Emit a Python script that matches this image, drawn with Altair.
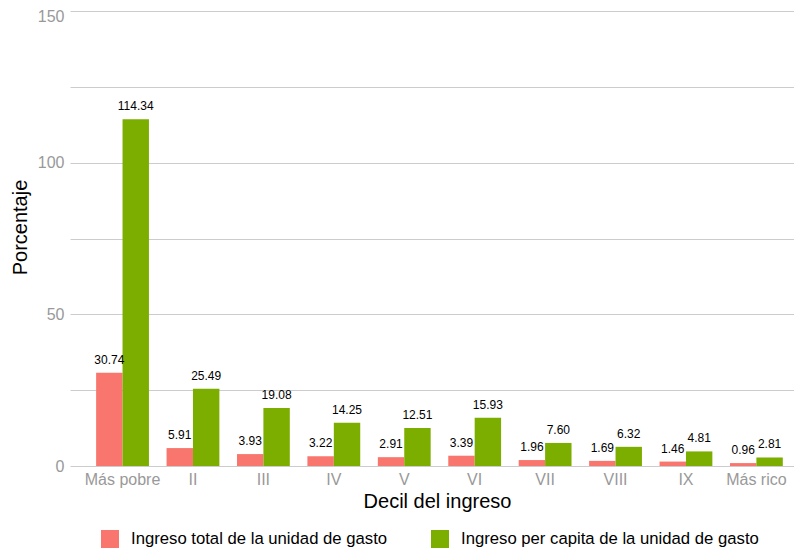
import altair as alt
import pandas as pd

deciles = ["Más pobre", "II", "III", "IV", "V", "VI", "VII", "VIII", "IX", "Más rico"]
series_names = ["Ingreso total de la unidad de gasto", "Ingreso per capita de la unidad de gasto"]
ingreso_total = [30.74, 5.91, 3.93, 3.22, 2.91, 3.39, 1.96, 1.69, 1.46, 0.96]
ingreso_percapita = [114.34, 25.49, 19.08, 14.25, 12.51, 15.93, 7.60, 6.32, 4.81, 2.81]
colors = ["#F8766D", "#7CAE00"]

rows = []
for d, a, b in zip(deciles, ingreso_total, ingreso_percapita):
    rows.append({"decil": d, "serie": series_names[0], "valor": a})
    rows.append({"decil": d, "serie": series_names[1], "valor": b})
df = pd.DataFrame(rows)

FONT = "Liberation Sans"

x_enc = alt.X(
    "decil:N",
    sort=deciles,
    scale=alt.Scale(paddingInner=0.25, paddingOuter=0.265, align=0.7),
    axis=alt.Axis(
        title="Decil del ingreso",
        labelAngle=0,
        labelColor="#999999",
        labelFontSize=16,
        labelFont=FONT,
        labelPadding=5,
        domain=False,
        ticks=False,
        grid=False,
        titleFontSize=20,
        titleFont=FONT,
        titleFontWeight="normal",
        titleColor="#000000",
        titleX=367,
        titleY=41,
        titleBaseline="alphabetic",
    ),
)
xoff = alt.XOffset("serie:N", sort=series_names, scale=alt.Scale(paddingInner=0, paddingOuter=0))
y_enc = alt.Y(
    "valor:Q",
    scale=alt.Scale(domain=[0, 150], nice=False),
    axis=alt.Axis(
        title="Porcentaje",
        values=[0, 25, 50, 75, 100, 125, 150],
        labelExpr="datum.value % 50 == 0 ? datum.label : ''",
        labelOffset=alt.ConditionalAxisNumber(
            condition={"test": "datum.value == 150", "value": 5}, value=0
        ),
        labelColor="#999999",
        labelFontSize=16,
        labelFont=FONT,
        labelPadding=6,
        domain=False,
        ticks=False,
        gridColor="#cccccc",
        gridWidth=1,
        titleFontSize=20,
        titleFont=FONT,
        titleFontWeight="normal",
        titleColor="#000000",
        titleX=-44,
        titleY=216,
        titleAngle=270,
        titleBaseline="alphabetic",
        titleAlign="center",
    ),
)

bars = alt.Chart(df).mark_bar().encode(
    x=x_enc,
    xOffset=xoff,
    y=y_enc,
    color=alt.Color(
        "serie:N",
        sort=series_names,
        scale=alt.Scale(domain=series_names, range=colors),
        legend=alt.Legend(
            title=None,
            orient="none",
            legendX=31,
            legendY=519,
            direction="horizontal",
            symbolType="square",
            symbolSize=324,
            symbolStrokeWidth=0,
            symbolOpacity=1,
            labelFontSize=16.7,
            labelFont=FONT,
            labelColor="#000000",
            labelLimit=500,
            labelOffset=12,
            columnPadding=43,
            padding=0,
        ),
    ),
)

labels = alt.Chart(df).mark_text(
    baseline="alphabetic", dy=-9, fontSize=12, font=FONT, color="#000000"
).encode(
    x=alt.X("decil:N", sort=deciles),
    xOffset=alt.XOffset("serie:N", sort=series_names),
    y="valor:Q",
    text=alt.Text("valor:Q", format=".2f"),
)

chart = (
    alt.layer(bars, labels)
    .properties(
        width=724,
        height=455,
        autosize=alt.AutoSizeParams(type="none"),
        padding={"left": 62, "top": 3, "right": 0, "bottom": 82},
    )
    .configure_view(stroke=None)
)

chart.save("out.html", embed_options={"renderer": "svg", "actions": False})
